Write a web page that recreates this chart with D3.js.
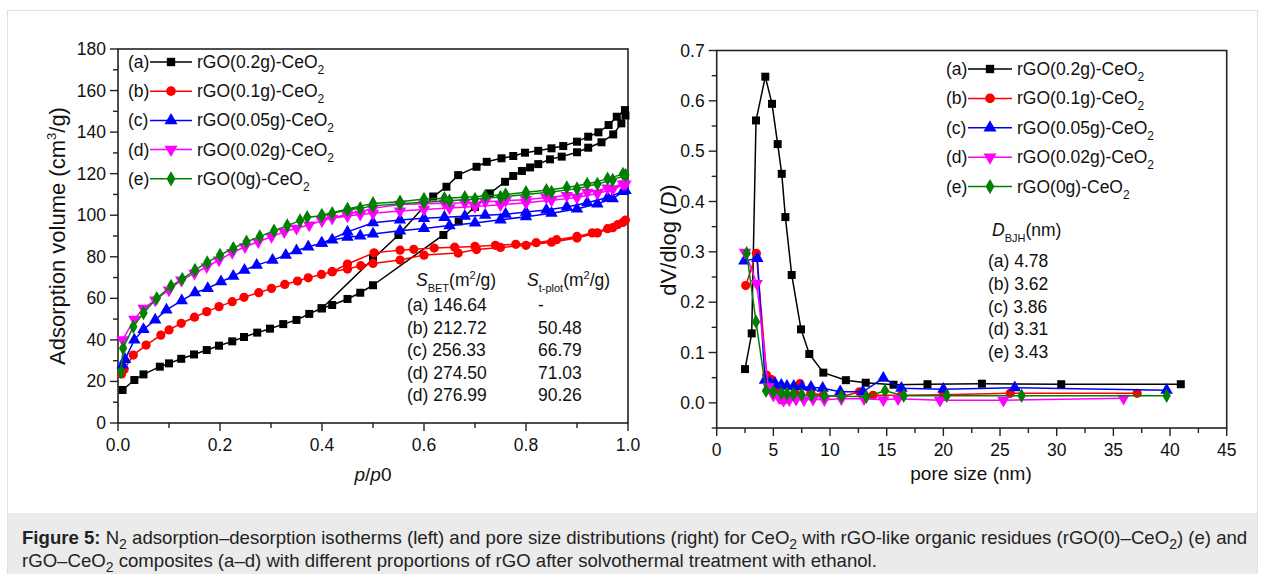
<!DOCTYPE html>
<html>
<head>
<meta charset="utf-8">
<script src="https://cdn.jsdelivr.net/npm/d3@7/dist/d3.min.js"></script>
<style>
  html, body { margin: 0; padding: 0; background: #fff; }
  svg { display: block; font-family: "Liberation Sans", Arial, sans-serif; }
</style>
</head>
<body>
<svg id="fig" width="1265" height="574"></svg>
<script>
// ---------------------------------------------------------------- DATA
// left panel: N2 isotherms, [p/p0, volume cm3/g]
const isoA_ads = [[0.009,15.9],[0.032,20.7],[0.05,23.4],[0.082,27.1],[0.1,28.7],[0.124,30.9],[0.149,33],[0.174,35.1],[0.198,37.2],[0.224,39.3],[0.247,41.4],[0.273,43.5],[0.298,45.4],[0.324,47.6],[0.35,49.6],[0.375,52.5],[0.399,55.2],[0.42,56.8],[0.45,59.7],[0.475,62.7],[0.5,66.3],[0.638,90.5],[0.668,97],[0.7,104],[0.729,110.5],[0.759,116.1],[0.775,118.9],[0.792,121.3],[0.808,123],[0.824,124.6],[0.847,126.9],[0.87,128.2],[0.9,130.3],[0.922,132.5],[0.948,135.1],[0.971,138.9],[0.987,144.2],[0.995,148]];
const isoA_des = [[0.994,150.6],[0.978,147.4],[0.962,143.4],[0.942,139.9],[0.922,137.8],[0.9,135.4],[0.873,133.3],[0.85,132.2],[0.824,131],[0.798,130.1],[0.775,128.5],[0.752,127.4],[0.723,125.7],[0.703,123.3],[0.667,119.3],[0.644,113.7],[0.618,109],[0.55,90.5],[0.5,79],[0.4,55.2]];

const isoB_ads = [[0.007,23.6],[0.012,25.8],[0.03,32.7],[0.055,37.5],[0.084,42.3],[0.1,44.8],[0.124,48],[0.15,50.9],[0.174,53.6],[0.198,56],[0.224,58.4],[0.247,60.5],[0.276,62.7],[0.301,64.8],[0.327,66.7],[0.352,68.3],[0.373,69.9],[0.399,71.5],[0.42,72.8],[0.45,74.1],[0.476,75.7],[0.5,76.8],[0.553,78.4],[0.6,80.8],[0.667,81.8],[0.703,83.5],[0.75,84.5],[0.8,85.5],[0.85,87],[0.9,89],[0.94,91.5],[0.97,94],[0.99,96.5]];
const isoB_des = [[0.995,97.7],[0.98,95.5],[0.96,93.5],[0.93,91.5],[0.9,89.8],[0.86,88.2],[0.82,86.8],[0.78,86],[0.74,85.5],[0.7,85],[0.66,84.6],[0.62,84.2],[0.58,83.6],[0.553,83.2],[0.502,81.9],[0.45,76.5],[0.42,72.8]];

const isoC_ads = [[0.009,28],[0.014,30.6],[0.032,40],[0.05,45],[0.073,49.6],[0.095,54.4],[0.125,58.9],[0.151,62.7],[0.176,64.8],[0.202,68],[0.226,70.7],[0.248,73.6],[0.272,76],[0.303,78.4],[0.329,80.8],[0.35,82.9],[0.373,84.8],[0.399,86.5],[0.42,88.1],[0.45,89.4],[0.475,90],[0.5,91],[0.553,92.5],[0.6,93.6],[0.65,95],[0.7,96.3],[0.75,97.8],[0.8,99.3],[0.85,101],[0.9,103],[0.94,105.5],[0.97,108],[0.995,112]];
const isoC_des = [[0.99,111.5],[0.96,108.5],[0.92,106],[0.88,104],[0.84,102.5],[0.8,101.5],[0.76,100.5],[0.72,100],[0.68,99.5],[0.64,99],[0.6,98.5],[0.553,97.7],[0.5,96.4],[0.45,92],[0.4,86.5]];

const isoD_ads = [[0.009,40],[0.032,49.9],[0.05,55.2],[0.073,59.2],[0.1,64],[0.124,68.8],[0.15,72],[0.174,75.2],[0.198,78.4],[0.224,82],[0.249,84.8],[0.275,87.2],[0.301,89.7],[0.326,92],[0.35,93.7],[0.375,95.3],[0.4,97.4],[0.42,98.5],[0.45,99.6],[0.475,100.4],[0.5,100.9],[0.553,102],[0.6,102.8],[0.65,103.5],[0.7,104.2],[0.75,105],[0.8,106],[0.85,107.2],[0.9,108.5],[0.94,110.5],[0.97,112.5],[0.995,115]];
const isoD_des = [[0.99,115],[0.96,113],[0.92,111],[0.88,109.5],[0.84,108.5],[0.8,107.5],[0.76,107],[0.72,106.5],[0.68,106],[0.64,105.8],[0.6,105.5],[0.553,105.2],[0.5,103.3],[0.45,100.5],[0.4,97.4]];

const isoE_ads = [[0.006,24.7],[0.01,36],[0.03,46.3],[0.05,53],[0.076,60],[0.104,65.9],[0.126,69.3],[0.151,73.6],[0.175,77.3],[0.2,80.8],[0.226,84.1],[0.252,87.2],[0.278,89.7],[0.306,92.5],[0.332,95],[0.357,97.4],[0.371,99],[0.399,99.8],[0.42,100.9],[0.45,102.5],[0.475,103.3],[0.5,104.5],[0.553,105.5],[0.6,106.2],[0.65,107],[0.7,107.8],[0.75,108.8],[0.8,110],[0.85,111.2],[0.9,112.8],[0.94,115],[0.97,117],[0.995,119.3]];
const isoE_des = [[0.99,119.8],[0.96,117.5],[0.92,115],[0.88,113.3],[0.84,112],[0.8,111],[0.76,110],[0.72,109.3],[0.68,108.7],[0.64,108.2],[0.6,107.8],[0.553,106.5],[0.5,105.7],[0.45,103],[0.4,100]];

// right panel: BJH pore size distribution, [pore size nm, dV/dlog(D)]
const poreA = [[2.5,0.067],[3.09,0.138],[3.47,0.561],[4.29,0.648],[4.88,0.594],[5.38,0.514],[5.74,0.455],[6.06,0.369],[6.62,0.254],[7.44,0.146],[8.17,0.097],[9.41,0.06],[11.4,0.045],[13.15,0.04],[15.6,0.036],[18.6,0.037],[23.4,0.038],[30.4,0.037],[40.95,0.037]];
const poreB = [[2.56,0.233],[3.5,0.297],[4.41,0.055],[4.85,0.046],[5.3,0.03],[5.88,0.005],[6.3,0.01],[6.9,0.02],[7.35,0.038],[8.3,0.02],[9.4,0.015],[11,0.012],[12.6,0.022],[13.8,0.015],[16.3,0.015],[20,0.016],[25.9,0.019],[37.1,0.019]];
const poreC = [[2.44,0.282],[3.59,0.287],[4.26,0.045],[4.7,0.04],[5.15,0.0385],[5.7,0.035],[6.2,0.033],[6.8,0.033],[7.5,0.032],[8.32,0.031],[9.35,0.029],[10.9,0.022],[12.9,0.022],[14.7,0.049],[16.3,0.029],[20,0.027],[26.3,0.03],[39.7,0.025]];
const poreD = [[2.5,0.299],[3.53,0.237],[4.56,0.032],[5.0,0.015],[5.5,0.01],[5.9,0.005],[6.4,0.006],[7.0,0.007],[7.7,0.006],[8.5,0.007],[9.5,0.006],[11,0.008],[13,0.008],[14.7,0.006],[16,0.008],[19.7,0.005],[25.3,0.005],[35.9,0.009]];
const poreE = [[2.65,0.297],[3.47,0.161],[4.35,0.024],[5,0.022],[5.7,0.019],[6.2,0.018],[6.76,0.017],[7.5,0.016],[8.38,0.015],[9.5,0.014],[11,0.013],[13.2,0.012],[14.85,0.024],[16.5,0.014],[20.3,0.014],[26.9,0.014],[39.7,0.014]];

const seriesKeys = ['(a)', '(b)', '(c)', '(d)', '(e)'];
const seriesNames = ['rGO(0.2g)-CeO', 'rGO(0.1g)-CeO', 'rGO(0.05g)-CeO', 'rGO(0.02g)-CeO', 'rGO(0g)-CeO'];
const seriesColors = ['#000000', '#ff0000', '#0000ff', '#ff00ff', '#008000'];
const seriesShapes = ['square', 'circle', 'triangle', 'triangleDown', 'diamond'];

const betRows = ['(a) 146.64', '(b) 212.72', '(c) 256.33', '(d) 274.50', '(d) 276.99'];
const tplotRows = ['-', '50.48', '66.79', '71.03', '90.26'];
const bjhRows = ['(a) 4.78', '(b) 3.62', '(c) 3.86', '(d) 3.31', '(e) 3.43'];

const isoTicks = d3.range(0, 181, 20);
const isoMinor = d3.range(10, 180, 20);
const pTicks = d3.range(0, 1.01, 0.2);
const pMinor = d3.range(0.1, 1, 0.2);
const poreXTicks = d3.range(0, 46, 5);
const poreXMinor = d3.range(2.5, 45, 5);
const poreYTicks = d3.range(0, 0.71, 0.1);
const poreYMinor = [-0.05, 0.05, 0.15, 0.25, 0.35, 0.45, 0.55, 0.65];

// ---------------------------------------------------------------- SETUP
const svg = d3.select('#fig');
const FS = 17.5;   // tick labels, legend, tables
const TS = 19;     // horizontal axis titles
const VS = 22;     // vertical axis titles
const AX = '#222';

// outer frame and caption band
svg.append('rect').attr('x', 7.5).attr('y', 10.5).attr('width', 1250).attr('height', 570)
  .attr('fill', '#fff').attr('stroke', '#e2e2e2');
svg.append('rect').attr('x', 8).attr('y', 513).attr('width', 1249).attr('height', 61)
  .attr('fill', '#ebebeb');

// marker generator
function markerPath(shape, size) {
  if (shape === 'square') return d3.symbol(d3.symbolSquare, size)();
  if (shape === 'circle') return d3.symbol(d3.symbolCircle, size * 1.05)();
  if (shape === 'diamond') return d3.symbol(d3.symbolDiamond, size * 0.95)();
  return d3.symbol(d3.symbolTriangle, size * 1.05)();
}
function markerRot(shape) { return shape === 'triangleDown' ? ' rotate(180)' : ''; }

// draws a framed panel with outward major/minor ticks
function drawFrame(g, x, y, xt, xm, yt, ym, xfmt, yfmt) {
  const [x0, x1] = x.range();
  const [y0, y1] = y.range();
  g.append('rect').attr('x', x0).attr('y', y1).attr('width', x1 - x0).attr('height', y0 - y1)
    .attr('fill', 'none').attr('stroke', AX).attr('stroke-width', 1.6);
  const ticks = g.append('g').attr('stroke', AX).attr('stroke-width', 1.4);
  ticks.selectAll('line.xt').data(xt).join('line').classed('xt', true)
    .attr('x1', d => x(d)).attr('x2', d => x(d)).attr('y1', y0).attr('y2', y0 + 8);
  ticks.selectAll('line.xm').data(xm).join('line').classed('xm', true)
    .attr('x1', d => x(d)).attr('x2', d => x(d)).attr('y1', y0).attr('y2', y0 + 5);
  ticks.selectAll('line.yt').data(yt).join('line').classed('yt', true)
    .attr('y1', d => y(d)).attr('y2', d => y(d)).attr('x1', x0).attr('x2', x0 - 8);
  ticks.selectAll('line.ym').data(ym).join('line').classed('ym', true)
    .attr('y1', d => y(d)).attr('y2', d => y(d)).attr('x1', x0).attr('x2', x0 - 5);
  g.selectAll('text.xl').data(xt).join('text').classed('xl', true)
    .attr('x', d => x(d)).attr('y', y0 + 28).attr('text-anchor', 'middle')
    .attr('font-size', FS).attr('fill', '#111').text(xfmt);
  g.selectAll('text.yl').data(yt).join('text').classed('yl', true)
    .attr('x', x0 - 12).attr('y', d => y(d) + 6).attr('text-anchor', 'end')
    .attr('font-size', FS).attr('fill', '#111').text(yfmt);
}

function drawSeries(g, pts, x, y, color, shape, size) {
  g.append('path').datum(pts)
    .attr('d', d3.line().x(d => x(d[0])).y(d => y(d[1])))
    .attr('fill', 'none').attr('stroke', color).attr('stroke-width', 1.5);
  g.append('g').selectAll('path').data(pts).join('path')
    .attr('d', markerPath(shape, size))
    .attr('transform', d => `translate(${x(d[0])},${y(d[1])})${markerRot(shape)}`)
    .attr('fill', color);
}

function drawLegend(g, lx, ly, dy, lineX0, lineX1, textX) {
  seriesKeys.forEach((k, i) => {
    const yy = ly + i * dy;
    g.append('text').attr('x', lx).attr('y', yy + 6).attr('font-size', FS).attr('fill', '#111').text(k);
    g.append('line').attr('x1', lineX0).attr('x2', lineX1).attr('y1', yy).attr('y2', yy)
      .attr('stroke', seriesColors[i]).attr('stroke-width', 1.5);
    g.append('path').attr('d', markerPath(seriesShapes[i], 70))
      .attr('transform', `translate(${(lineX0 + lineX1) / 2},${yy})${markerRot(seriesShapes[i])}`)
      .attr('fill', seriesColors[i]);
    const t = g.append('text').attr('x', textX).attr('y', yy + 6).attr('font-size', FS).attr('fill', '#111');
    t.append('tspan').text(seriesNames[i]);
    t.append('tspan').attr('font-size', 12).attr('dy', 6).text('2');
  });
}

// ---------------------------------------------------------------- LEFT PANEL
const xIso = d3.scaleLinear().domain([0, 1]).range([118, 628]);
const yIso = d3.scaleLinear().domain([0, 180]).range([423, 49]);
const left = svg.append('g');
drawFrame(left, xIso, yIso, pTicks, pMinor, isoTicks, isoMinor, d => d3.format('.1f')(d), d => d);

// each isotherm is drawn as one run: adsorption up, then desorption back down
const isoSets = [
  isoA_ads.concat(isoA_des), isoB_ads.concat(isoB_des), isoC_ads.concat(isoC_des),
  isoD_ads.concat(isoD_des), isoE_ads.concat(isoE_des)
];
isoSets.forEach((pts, i) => drawSeries(left, pts, xIso, yIso, seriesColors[i], seriesShapes[i], 64));
drawLegend(left, 128, 62, 29.2, 150, 192, 197);

// surface area table
const tab = left.append('g').attr('font-size', FS).attr('fill', '#111');
let h = tab.append('text').attr('x', 416).attr('y', 286);
h.append('tspan').attr('font-style', 'italic').text('S');
h.append('tspan').attr('font-size', 11).attr('dy', 6).text('BET');
h.append('tspan').attr('dy', -6).text('(m');
h.append('tspan').attr('font-size', 11).attr('dy', -7).text('2');
h.append('tspan').attr('dy', 7).text('/g)');
h = tab.append('text').attr('x', 527).attr('y', 286);
h.append('tspan').attr('font-style', 'italic').text('S');
h.append('tspan').attr('font-size', 11).attr('dy', 6).text('t-plot');
h.append('tspan').attr('dy', -6).text('(m');
h.append('tspan').attr('font-size', 11).attr('dy', -7).text('2');
h.append('tspan').attr('dy', 7).text('/g)');
tab.selectAll('text.bet').data(betRows).join('text').classed('bet', true)
  .attr('x', 407).attr('y', (d, i) => 311 + i * 22.6).text(d => d);
tab.selectAll('text.tp').data(tplotRows).join('text').classed('tp', true)
  .attr('x', 538).attr('y', (d, i) => 311 + i * 22.6).text(d => d);

// axis titles
left.append('text').attr('transform', 'translate(65,236) rotate(-90)').attr('text-anchor', 'middle')
  .attr('font-size', VS).attr('fill', '#111')
  .call(t => {
    t.append('tspan').text('Adsorption volume (cm');
    t.append('tspan').attr('font-size', 13).attr('dy', -9).text('3');
    t.append('tspan').attr('dy', 9).text('/g)');
  });
left.append('text').attr('x', 373).attr('y', 481).attr('text-anchor', 'middle')
  .attr('font-size', TS).attr('fill', '#111')
  .call(t => {
    t.append('tspan').attr('font-style', 'italic').text('p');
    t.append('tspan').text('/');
    t.append('tspan').attr('font-style', 'italic').text('p');
    t.append('tspan').text('0');
  });

// ---------------------------------------------------------------- RIGHT PANEL
const xPore = d3.scaleLinear().domain([0, 45]).range([716.7, 1226.7]);
const yPore = d3.scaleLinear().domain([-0.05, 0.7]).range([428, 50.5]);
const right = svg.append('g');
drawFrame(right, xPore, yPore, poreXTicks, poreXMinor, poreYTicks, poreYMinor, d => d, d => d3.format('.1f')(d));

const poreSets = [poreA, poreB, poreC, poreD, poreE];
poreSets.forEach((pts, i) => drawSeries(right, pts, xPore, yPore, seriesColors[i], seriesShapes[i], 64));
drawLegend(right, 946, 69, 29.4, 968, 1012, 1017);

const bjh = right.append('g').attr('font-size', FS).attr('fill', '#111');
h = bjh.append('text').attr('x', 992).attr('y', 236);
h.append('tspan').attr('font-style', 'italic').text('D');
h.append('tspan').attr('font-size', 11).attr('dy', 6).text('BJH');
h.append('tspan').attr('dy', -6).text('(nm)');
bjh.selectAll('text.row').data(bjhRows).join('text').classed('row', true)
  .attr('x', 988).attr('y', (d, i) => 267 + i * 22.8).text(d => d);

right.append('text').attr('transform', 'translate(676,240) rotate(-90)').attr('text-anchor', 'middle')
  .attr('font-size', VS).attr('fill', '#111')
  .call(t => {
    t.append('tspan').text('dV/dlog (');
    t.append('tspan').attr('font-style', 'italic').text('D');
    t.append('tspan').text(')');
  });
right.append('text').attr('x', 971).attr('y', 480).attr('text-anchor', 'middle')
  .attr('font-size', TS).attr('fill', '#111').text('pore size (nm)');

// ---------------------------------------------------------------- CAPTION
const cap = svg.append('g').attr('font-size', 18.6).attr('fill', '#222');
let c1 = cap.append('text').attr('x', 22).attr('y', 544);
c1.append('tspan').attr('font-weight', 'bold').text('Figure 5:');
c1.append('tspan').text(' N');
c1.append('tspan').attr('font-size', 14).attr('dy', 5).text('2');
c1.append('tspan').attr('dy', -5).text(' adsorption–desorption isotherms (left) and pore size distributions (right) for CeO');
c1.append('tspan').attr('font-size', 14).attr('dy', 5).text('2');
c1.append('tspan').attr('dy', -5).text(' with rGO-like organic residues (rGO(0)–CeO');
c1.append('tspan').attr('font-size', 14).attr('dy', 5).text('2');
c1.append('tspan').attr('dy', -5).text(') (e) and');
let c2 = cap.append('text').attr('x', 22).attr('y', 567);
c2.append('tspan').text('rGO–CeO');
c2.append('tspan').attr('font-size', 14).attr('dy', 5).text('2');
c2.append('tspan').attr('dy', -5).text(' composites (a–d) with different proportions of rGO after solvothermal treatment with ethanol.');
</script>
</body>
</html>
